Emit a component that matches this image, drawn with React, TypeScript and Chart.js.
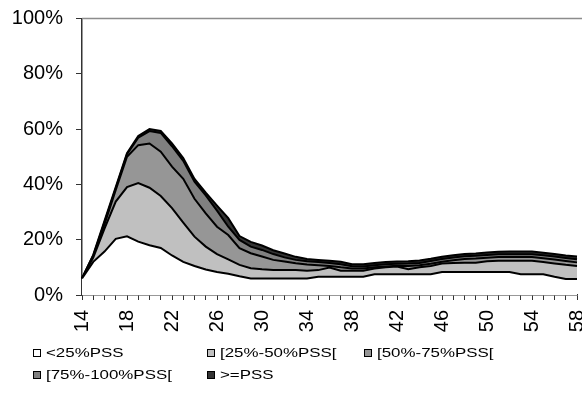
import { useEffect, useRef } from 'react';
import { Chart, registerables } from 'chart.js';

Chart.register(...registerables);

const ages = ['14','15','16','17','18','19','20','21','22','23','24','25','26','27','28','29','30','31','32','33','34','35','36','37','38','39','40','41','42','43','44','45','46','47','48','49','50','51','52','53','54','55','56','57','58'];
const tickLabels = ['14','18','22','26','30','34','38','42','46','50','54','58'];
const yTicks = [0, 20, 40, 60, 80, 100];

const seriesNames = ['<25%PSS', '[25%-50%PSS[', '[50%-75%PSS[', '[75%-100%PSS[', '>=PSS'];

const below25 = [6,12,15.7,20.3,21.2,19.3,18,17,14.3,12,10.5,9.2,8.3,7.7,6.8,6,6,6,6,6,6,6.6,6.6,6.6,6.6,6.6,7.5,7.5,7.5,7.5,7.5,7.5,8.3,8.3,8.3,8.3,8.3,8.3,8.3,7.5,7.5,7.5,6.6,5.8,5.8];
const from25to50 = [0,1.5,8.3,13.5,17.8,21.2,20.8,18.8,17.1,14.2,10.6,8.3,6.5,5.2,4.1,3.7,3.3,3,3,3,2.8,2.4,3.3,2.2,2.2,2.2,2.1,2.5,2.8,1.8,2.5,3,3.1,3.3,3.4,3.4,3.9,4.1,4.1,4.9,4.9,4.4,4.8,5.1,4.7];
const from50to75 = [0,0.5,1.5,4.2,11,13.7,16,16,15,15.8,13.7,12,9.9,8.8,6,5.4,4.6,3.7,3.1,2.5,2.2,1.8,0.6,1.2,0.8,0.8,0.4,0.3,0.3,1.2,0.8,0.8,0.6,1,1.3,1.5,1.3,1.3,1.3,1.3,1.3,1.4,1.4,1.4,1.3];
const from75to100 = [0,0.3,0.8,0.6,0.9,2.7,4.5,6.8,7.4,6.5,6.2,6.5,5.8,3,3,2.4,2.4,2.1,1.5,1.2,1.2,1.1,1.1,1.1,0.8,0.7,0.8,0.8,0.7,0.9,0.8,1,1,1,1,1,1,1,1,1,1,1.1,1.1,1.1,1.1];
const abovePSS = [0,0.2,0.5,0.4,0.4,0.6,0.7,0.7,1,1,1,1,1.8,3.1,1.4,1.7,1.6,1.4,1.4,1.1,0.8,0.8,0.8,0.9,0.7,0.8,0.8,0.8,0.8,0.8,0.9,0.8,0.8,0.8,0.8,0.8,0.9,0.9,1,1,1,0.9,0.9,0.9,1];

const seriesValues = [below25, from25to50, from50to75, from75to100, abovePSS];
const fillColors = ['#ffffff', '#c0c0c0', '#969696', '#808080', '#333333'];

const FONT = '"Liberation Sans", Arial, sans-serif';

const topLinePlugin = {
  id: 'topLine',
  afterDraw(chart: any) {
    const { ctx, chartArea } = chart;
    ctx.save();
    ctx.strokeStyle = '#8c8c8c';
    ctx.lineWidth = 1.5;
    ctx.beginPath();
    ctx.moveTo(chartArea.left, chartArea.top);
    ctx.lineTo(chart.width, chartArea.top);
    ctx.stroke();
    ctx.restore();
  },
};

// Vertical (bottom-to-top) category labels under the x axis
const rotatedXLabels = {
  id: 'rotatedXLabels',
  afterDraw(chart: any) {
    const { ctx, chartArea } = chart;
    const xScale = chart.scales.x;
    ctx.save();
    ctx.fillStyle = '#000';
    ctx.font = `20px ${FONT}`;
    ctx.textAlign = 'right';
    ctx.textBaseline = 'middle';
    tickLabels.forEach((lab) => {
      const px = xScale.getPixelForValue(ages.indexOf(lab));
      ctx.save();
      ctx.translate(px, chartArea.bottom + 15);
      ctx.rotate(-Math.PI / 2);
      ctx.fillText(lab, 0, 0);
      ctx.restore();
    });
    ctx.restore();
  },
};

const legendPlugin = {
  id: 'gridLegend',
  afterDraw(chart: any) {
    const ctx = chart.ctx;
    const slots = [
      { x: 33, y: 353 }, { x: 207, y: 353 }, { x: 364, y: 353 },
      { x: 33, y: 375 }, { x: 207, y: 375 },
    ];
    ctx.save();
    chart.data.datasets.forEach((ds: any, i: number) => {
      const s = slots[i];
      ctx.fillStyle = ds.backgroundColor;
      ctx.fillRect(s.x, s.y - 4, 8, 8);
      ctx.strokeStyle = '#000';
      ctx.lineWidth = 1;
      ctx.strokeRect(s.x + 0.5, s.y - 3.5, 7, 7);
      ctx.save();
      ctx.translate(s.x + 13, s.y);
      ctx.scale(1.3, 1);
      ctx.fillStyle = '#000';
      ctx.font = `13px ${FONT}`;
      ctx.textBaseline = 'middle';
      ctx.textAlign = 'left';
      ctx.fillText(ds.label, 0, 0);
      ctx.restore();
    });
    ctx.restore();
  },
};

export default function App() {
  const ref = useRef<HTMLCanvasElement>(null);
  useEffect(() => {
    document.body.style.margin = '0';
    const chart = new Chart(ref.current as HTMLCanvasElement, {
      type: 'line',
      data: {
        labels: ages,
        datasets: seriesNames.map((name, k) => ({
          label: name,
          data: seriesValues[k],
          backgroundColor: fillColors[k],
          borderColor: '#000000',
          borderWidth: 2,
          fill: k === 0 ? 'origin' : '-1',
          pointRadius: 0,
          tension: 0,
        })),
      },
      options: {
        responsive: false,
        animation: false,
        layout: { padding: { left: 12, top: 18.5, right: 5, bottom: 96 } },
        plugins: { legend: { display: false }, tooltip: { enabled: false } },
        scales: {
          x: {
            type: 'category',
            offset: false,
            grid: { display: true, drawOnChartArea: false, drawTicks: true, tickLength: 5, tickColor: '#333', tickWidth: 1 },
            border: { color: '#333', width: 1.5 },
            ticks: { display: false, autoSkip: false },
          },
          y: {
            stacked: true,
            min: yTicks[0],
            max: yTicks[yTicks.length - 1],
            grid: { display: true, drawOnChartArea: false, drawTicks: true, tickLength: 6, tickColor: '#333', tickWidth: 1 },
            border: { color: '#333', width: 1.5 },
            ticks: {
              stepSize: 20,
              padding: 13,
              color: '#000',
              font: { family: FONT, size: 20 },
              callback: (v: any) => `${v}%`,
            },
            afterFit: (scale: any) => {
              scale.width = 70;
              scale.paddingTop = 0;
              scale.paddingBottom = 0;
            },
          },
        },
      },
      plugins: [topLinePlugin, rotatedXLabels, legendPlugin],
    });
    return () => chart.destroy();
  }, []);
  return (
    <div style={{ position: 'relative', width: 582, height: 396 }}>
      <canvas ref={ref} width={582} height={396} style={{ display: 'block' }} />
    </div>
  );
}
